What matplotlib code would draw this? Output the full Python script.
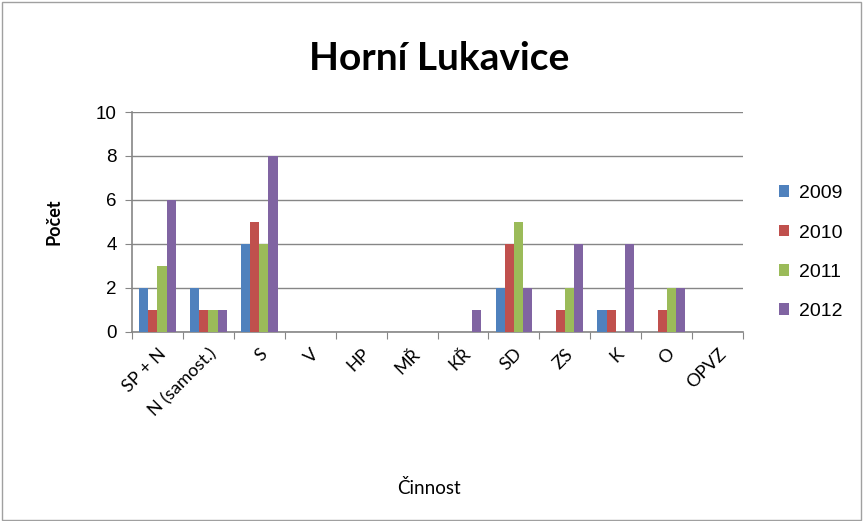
import numpy as np
import matplotlib.pyplot as plt

categories = ["SP + N", "N (samost.)", "S", "V", "HP", "MŘ", "KŘ", "SD", "ZS", "K", "O", "OPVZ"]
years = ["2009", "2010", "2011", "2012"]
v2009 = [2, 2, 4, 0, 0, 0, 0, 2, 0, 1, 0, 0]
v2010 = [1, 1, 5, 0, 0, 0, 0, 4, 1, 1, 1, 0]
v2011 = [3, 1, 4, 0, 0, 0, 0, 5, 2, 0, 2, 0]
v2012 = [6, 1, 8, 0, 0, 0, 1, 2, 4, 4, 2, 0]
series = [v2009, v2010, v2011, v2012]
colors = ["#4f81bd", "#c0504d", "#9bbb59", "#8064a2"]

plt.rcParams['font.family'] = ['Lato', 'DejaVu Sans']

fig = plt.figure(figsize=(8.63, 5.21), dpi=100)
# chart area border
fig.patches.append(plt.Rectangle((0.002, 0.002), 0.996, 0.994, transform=fig.transFigure,
                                 fill=False, edgecolor="#a0a0a0", linewidth=1))
ax = fig.add_axes([0.153, 0.363, 0.708, 0.422])

x = np.arange(len(categories))
w = 0.18
for i, (vals, c, lab) in enumerate(zip(series, colors, years)):
    ax.bar(x + (i - 1.5) * w, vals, width=w, color=c, label=lab, zorder=3)

ax.set_xlim(-0.5, len(categories) - 0.5)
ax.set_ylim(0, 10)
ax.set_yticks(range(0, 11, 2))
ax.yaxis.grid(True, color="#868686", linewidth=1, zorder=0)
for s in ["top", "right"]:
    ax.spines[s].set_visible(False)
for s in ["left", "bottom"]:
    ax.spines[s].set_color("#868686")
    ax.spines[s].set_linewidth(1.2)

ax.set_xticks(np.arange(-0.5, len(categories)), minor=False)
ax.set_xticklabels([])
ax.set_xticks(x, minor=True)
ax.set_xticklabels(categories, minor=True, rotation=45, ha="right", rotation_mode="anchor",
                   fontsize=13)
ax.tick_params(axis="x", which="minor", length=0, pad=10)
ax.tick_params(axis="x", which="major", length=5, color="#868686")
ax.tick_params(axis="y", length=5, color="#868686", labelsize=13.5, pad=6)
for t in ax.get_yticklabels():
    t.set_family("Liberation Sans")

ax.set_ylabel("Počet", fontsize=13, fontweight="bold", labelpad=24)
fig.text(0.497, 0.063, "Činnost", ha="center", va="center", fontsize=13.5)
fig.text(0.509, 0.888, "Horní Lukavice", ha="center", va="center", fontsize=28, fontweight="bold")

leg = fig.legend(loc="center left", bbox_to_anchor=(0.882, 0.515), frameon=False,
                 fontsize=14, handlelength=0.55, handleheight=0.55, labelspacing=1.15,
                 handletextpad=0.5)
for t in leg.get_texts():
    t.set_family("Liberation Sans")

fig.savefig("out.png", dpi=100)
